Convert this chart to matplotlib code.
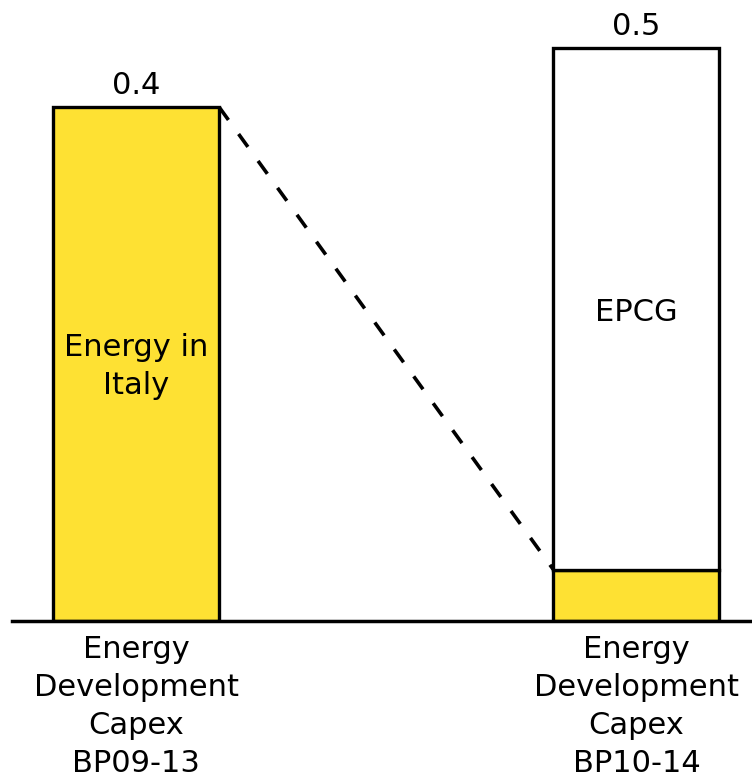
import matplotlib
matplotlib.use("Agg")
import matplotlib.pyplot as plt

# capex plans (EUR bn) for the two business plans
categories = ["Energy\nDevelopment\nCapex\nBP09-13", "Energy\nDevelopment\nCapex\nBP10-14"]
italy = [0.44, 0.044]
epcg = [0.0, 0.447]
totals = [a + b for a, b in zip(italy, epcg)]

yellow = "#FEE133"
plt.rcParams["font.family"] = ["DejaVu Sans"]

fig = plt.figure(figsize=(7.52, 7.78), dpi=100)
ax = fig.add_axes([12 / 752, 157 / 778, 740 / 752, 621 / 778])

x = [0, 1]
width = 0.332
ax.bar(x, italy, width=width, color=yellow, edgecolor="black", linewidth=2.4, zorder=2)
ax.bar(x[1], epcg[1], bottom=italy[1], width=width, color="white",
       edgecolor="black", linewidth=2.4, zorder=2)

# connector from the old plan's top to the Italy part of the new plan
ax.plot([x[0] + width / 2, x[1] - width / 2], [italy[0], italy[1]],
        color="black", linewidth=2.6, dashes=(4.4, 4.8), zorder=1)

for xi, tot in zip(x, totals):
    ax.text(xi, tot + 0.006, f"{tot:.1f}", ha="center", va="bottom", fontsize=22)

ax.text(x[0], 0.218, "Energy in\nItaly", ha="center", va="center",
        fontsize=22, linespacing=1.42)
ax.text(x[1], 0.264, "EPCG", ha="center", va="center", fontsize=22)

ax.set_xlim(-0.248, 1.231)
ax.set_ylim(0, 621 / 1168)
ax.set_xticks(x)
ax.set_xticklabels(categories, fontsize=22, linespacing=1.4)
ax.tick_params(axis="x", length=0, pad=10)
ax.set_yticks([])
for side in ["top", "right", "left"]:
    ax.spines[side].set_visible(False)
ax.spines["bottom"].set_linewidth(2.5)

fig.savefig("out.png", dpi=100)
